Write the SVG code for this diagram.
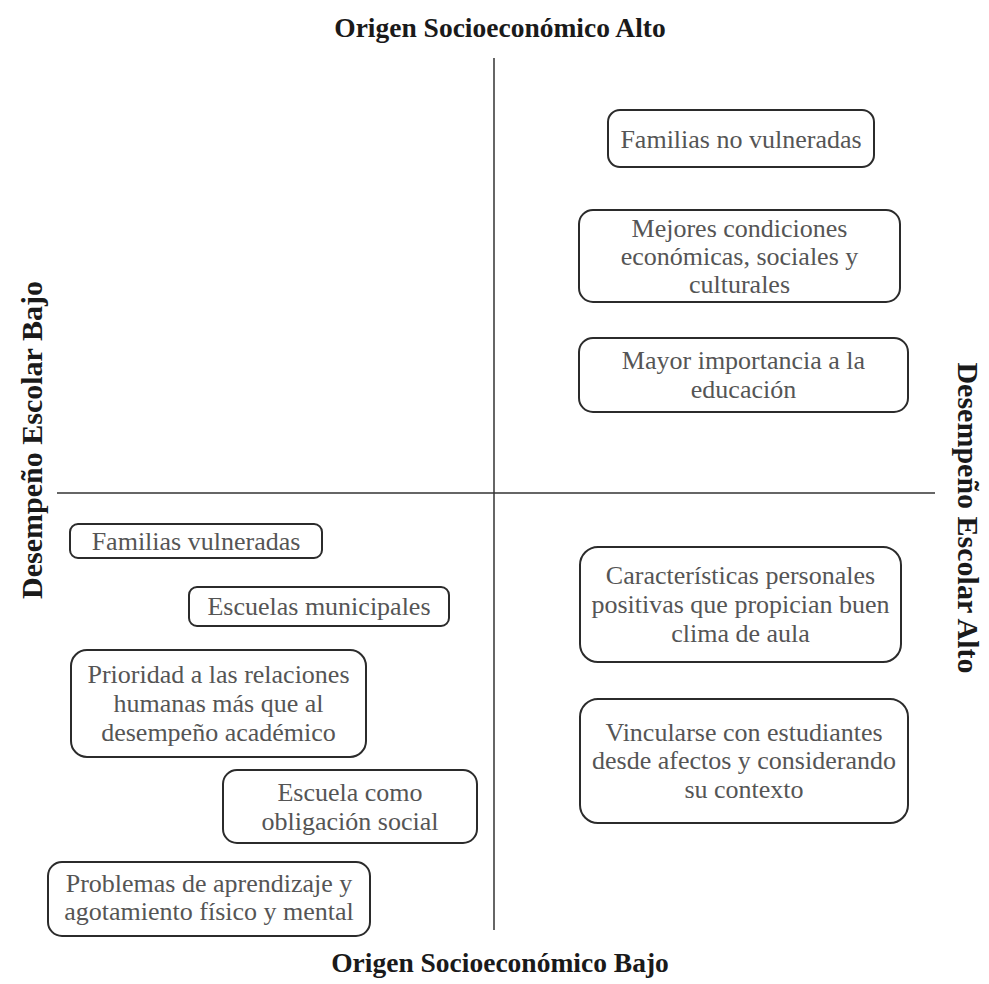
<svg xmlns="http://www.w3.org/2000/svg" width="989" height="984" viewBox="0 0 989 984">
<style>
.box{fill:#fff;stroke:#2b2b2b;stroke-width:2}
.t{font-family:"Times New Roman","Liberation Serif",Tinos,serif;font-size:26px;fill:#555;text-anchor:middle}
.h{font-family:"Times New Roman","Liberation Serif",Tinos,serif;font-size:27.5px;font-weight:bold;fill:#1a1a1a;text-anchor:middle}
.v{font-size:30px}
.ax{stroke:#333;stroke-width:1.5}
</style>
<rect width="989" height="984" fill="#fff"/>
<g id="axes">
<line class="ax" x1="494" y1="58" x2="494" y2="930"/>
<line class="ax" x1="57" y1="493" x2="935" y2="493"/>
</g>
<g id="labels">
<text class="h" x="500" y="37">Origen Socioeconómico Alto</text>
<text class="h" x="500" y="972">Origen Socioeconómico Bajo</text>
<text class="h v" transform="translate(42,440) rotate(-90)">Desempeño Escolar Bajo</text>
<text class="h v" transform="translate(958,518) rotate(90)">Desempeño Escolar Alto</text>
</g>
<g id="n1"><rect class="box" x="608" y="110" width="266" height="57" rx="12"/><text class="t" x="741" y="147.5">Familias no vulneradas</text></g>
<g id="n2"><rect class="box" x="579" y="210" width="321" height="92" rx="14"/><text class="t" x="739.5" y="237">Mejores condiciones</text><text class="t" x="739.5" y="265">económicas, sociales y</text><text class="t" x="739.5" y="293">culturales</text></g>
<g id="n3"><rect class="box" x="579" y="338" width="329" height="74" rx="14"/><text class="t" x="743.5" y="369">Mayor importancia a la</text><text class="t" x="743.5" y="398">educación</text></g>
<g id="n4"><rect class="box" x="70" y="524" width="252" height="34" rx="8"/><text class="t" x="196" y="550">Familias vulneradas</text></g>
<g id="n5"><rect class="box" x="189" y="587" width="260" height="39" rx="8"/><text class="t" x="319" y="615">Escuelas municipales</text></g>
<g id="n6"><rect class="box" x="71" y="650" width="295" height="107" rx="16"/><text class="t" x="218.5" y="683">Prioridad a las relaciones</text><text class="t" x="218.5" y="712">humanas más que al</text><text class="t" x="218.5" y="741">desempeño académico</text></g>
<g id="n7"><rect class="box" x="223" y="770" width="254" height="73" rx="14"/><text class="t" x="350" y="801">Escuela como</text><text class="t" x="350" y="830">obligación social</text></g>
<g id="n8"><rect class="box" x="48" y="862" width="322" height="74" rx="14"/><text class="t" x="209" y="892">Problemas de aprendizaje y</text><text class="t" x="209" y="920">agotamiento físico y mental</text></g>
<g id="n9"><rect class="box" x="580" y="547" width="321" height="115" rx="18"/><text class="t" x="740.5" y="584">Características personales</text><text class="t" x="740.5" y="613">positivas que propician buen</text><text class="t" x="740.5" y="642">clima de aula</text></g>
<g id="n10"><rect class="box" x="580" y="699" width="328" height="124" rx="18"/><text class="t" x="744" y="741">Vincularse con estudiantes</text><text class="t" x="744" y="769">desde afectos y considerando</text><text class="t" x="744" y="798">su contexto</text></g>
</svg>
